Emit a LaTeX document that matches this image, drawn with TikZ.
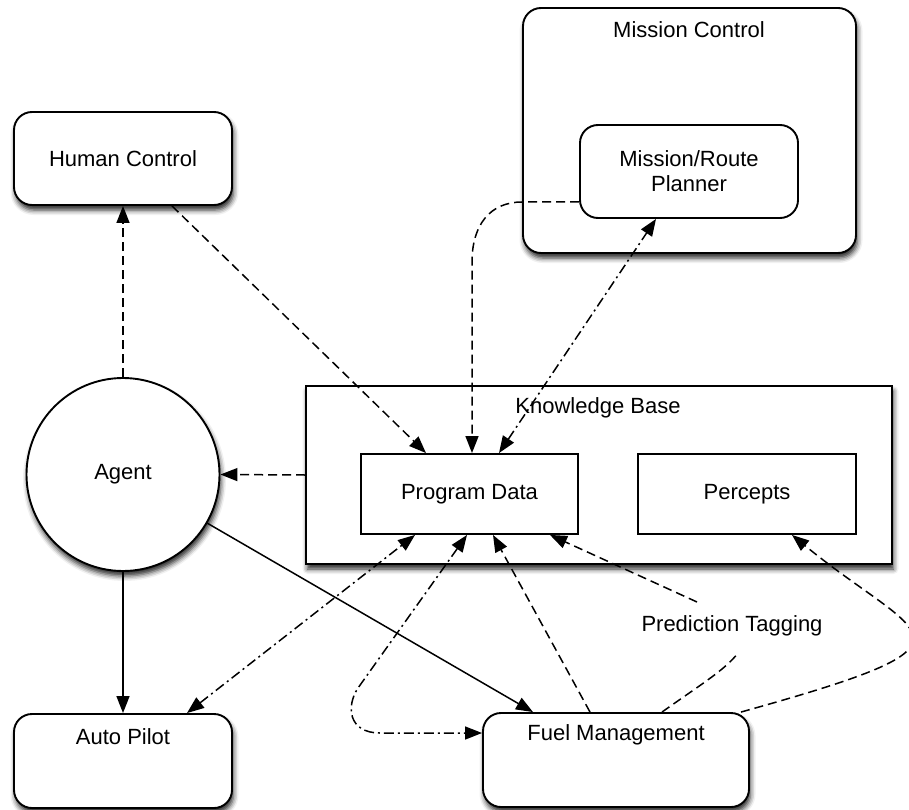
\documentclass[tikz,border=0pt]{standalone}
\usepackage{fontspec}
\setmainfont{Liberation Sans}
\usetikzlibrary{arrows.meta,shadows.blur}

\begin{document}
\begin{tikzpicture}[x=1pt,y=-1pt,
  every node/.style={font=\fontsize{22}{25}\selectfont},
  shadowed/.style={blur shadow={shadow xshift=1.5pt,shadow yshift=-5pt,shadow blur radius=5pt,shadow opacity=85}},
  rbox/.style={draw,line width=1.9pt,rounded corners=18pt,fill=white,inner sep=0pt},
  sbox/.style={draw,line width=1.9pt,fill=white,inner sep=0pt},
  title/.style={inner sep=0pt},
  conn/.style={line width=1.5pt},
  dsh/.style={conn,dash pattern=on 9pt off 5pt},
  ddot/.style={conn,dash pattern=on 10pt off 4pt on 2pt off 4pt},
  >={Triangle[length=17pt,width=13pt]}
]
\useasboundingbox (0,0) rectangle (909,810);

% boxes
\node[rbox,shadowed,minimum width=333pt,minimum height=245pt] (mc) at (689.5,130.5) {};
\node[title] (mctitle) at (689,30) {Mission Control};
\node[rbox,minimum width=218pt,minimum height=93pt,align=center] (pl) at (689,171.5) {Mission/Route\\Planner};

\node[rbox,shadowed,minimum width=218pt,minimum height=93pt] (hc) at (123,158.5) {Human Control};

\node[sbox,shadowed,minimum width=586pt,minimum height=178pt] (kb) at (599,475) {};
\node[title] (kbtitle) at (598,408) {Knowledge Base};
\node[sbox,minimum width=217pt,minimum height=80pt] (pd) at (469.5,494) {Program Data};
\node[sbox,minimum width=218pt,minimum height=80pt] (pc) at (747,494) {Percepts};

\node[draw,circle,line width=1.9pt,fill=white,shadowed,minimum size=193pt,inner sep=0pt] (ag) at (123,474.5) {Agent};

\node[rbox,shadowed,minimum width=218pt,minimum height=94pt] (ap) at (123,761) {};
\node[title] (aptitle) at (123,737) {Auto Pilot};

\node[rbox,shadowed,minimum width=266pt,minimum height=94pt] (fm) at (616,760) {};
\node[title] (fmtitle) at (616,735) {Fuel Management};

\node[title] (pt) at (732,626) {Prediction Tagging};

% connectors
\draw[dsh,->] (ag.north) -- (hc.south);
\draw[dsh,->] ([xshift=49pt]hc.south) -- ([xshift=-43.5pt]pd.north);
\draw[dsh,->] ([yshift=-30.5pt]pl.west) -- (522,202)
  .. controls (490,202) and (472,225) .. (472,262) -- ([xshift=2.5pt]pd.north);
\draw[ddot,<->] ([xshift=29.5pt]pd.north) -- ([xshift=-33pt]pl.south);
\draw[dsh,->] (kb.west) -- (ag.east);
\draw[conn,->] (ag.south) -- (ap.north);
\draw[conn,->] (ag.-30) -- ([xshift=-83pt]fm.north);
\draw[ddot,<->] ([xshift=64pt]ap.north) -- ([xshift=-54.5pt]pd.south);
\draw[ddot,<->] ([xshift=-2.5pt]pd.south) -- (358,688)
  .. controls (346,706) and (348,733) .. (380,733) -- ([yshift=27pt]fm.west);
\draw[dsh,->] ([xshift=-26pt]fm.north) -- ([xshift=23.5pt]pd.south);
\draw[dsh] ([xshift=46pt]fm.north) .. controls (700,685) and (725,670) .. ([xshift=6pt,yshift=-27pt]pt.center);
\draw[dsh,->] ([xshift=-35pt,yshift=24pt]pt.center) -- ([xshift=80.5pt]pd.south);
\draw[dsh,->] ([xshift=-9pt]fm.north east) .. controls (1000,640) and (920,640) .. ([xshift=45pt]pc.south);
\end{tikzpicture}
\end{document}
